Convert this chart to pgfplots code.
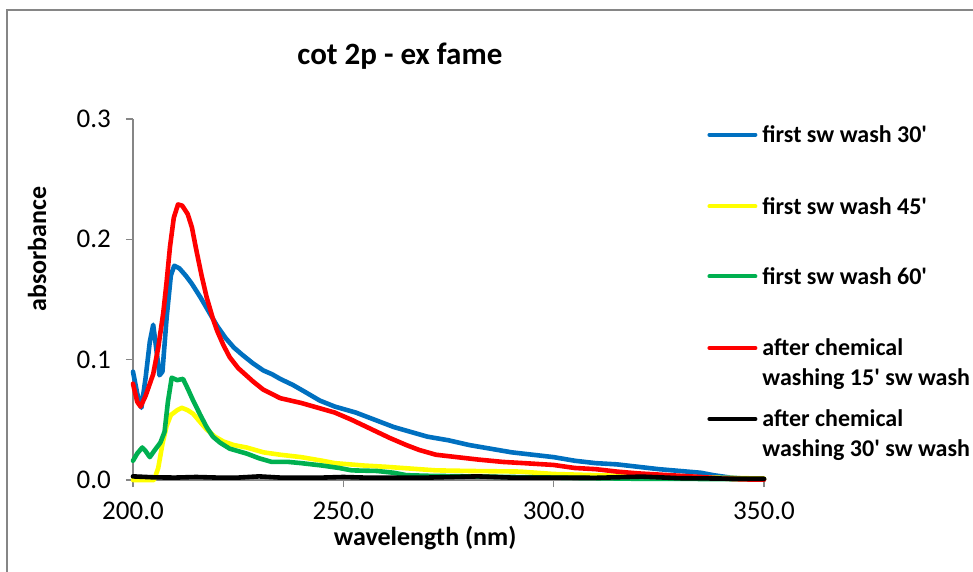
\documentclass[border=0pt]{standalone}
\usepackage{fontspec}
\setmainfont{Carlito}[Ligatures=TeXOff]
\usepackage{pgfplots}
\pgfplotsset{compat=1.18}
\definecolor{xlblue}{RGB}{0,112,192}
\definecolor{xlyellow}{RGB}{255,255,0}
\definecolor{xlgreen}{RGB}{0,176,80}
\definecolor{xlred}{RGB}{255,0,0}
\definecolor{axgray}{RGB}{134,134,134}
\begin{document}
\begin{tikzpicture}
% picture area
\clip (-66.5pt,-46pt) rectangle (420pt,240pt);
\draw[axgray, line width=0.8pt] (-63pt,-46pt) -- (-63pt,235pt) -- (420pt,235pt);
\begin{axis}[
    at={(0pt,0pt)}, anchor=south west,
    scale only axis, width=315.5pt, height=180.5pt,
    xmin=200, xmax=350, ymin=0, ymax=0.3,
    axis lines=left,
    axis line style={-, draw=axgray, line width=0.7pt},
    clip=false,
    xtick={200,250,300,350}, ytick={0,0.1,0.2,0.3},
    tick align=outside, major tick length=3.5pt,
    tick style={draw=axgray, line width=0.7pt},
    /pgf/number format/.cd, fixed, fixed zerofill, precision=1,
        assume math mode=true, /pgfplots/.cd,
    tick label style={font=\fontsize{13.5}{16}\selectfont},
    xticklabel style={yshift=-4pt},
    yticklabel style={xshift=-4pt},
    title={cot 2p - ex fame},
    title style={at={(axis description cs:0.423,1.141)}, anchor=center,
                 font=\bfseries\fontsize{15.5}{18}\selectfont},
    xlabel={wavelength (nm)},
    xlabel style={at={(axis description cs:0.463,-0.16)}, anchor=center,
                  font=\bfseries\fontsize{13}{16}\selectfont},
    ylabel={absorbance},
    ylabel style={at={(axis description cs:-0.152,0.64)}, anchor=center,
                  font=\bfseries\fontsize{13}{16}\selectfont},
    legend style={at={(axis description cs:0.9097,0.9909)}, anchor=north west,
                  draw=none, fill=none, inner sep=0pt, row sep=0pt,
                  nodes={inner xsep=2.5pt, inner ysep=0pt, text height=10pt,
                         font=\bfseries\fontsize{12}{15}\selectfont},
                  cells={anchor=base west}},
    legend image code/.code={\draw[#1, line width=2pt] (0pt,4pt) -- (23pt,4pt);},
    every axis plot/.append style={line width=2.3pt, line join=round, line cap=round},
]
% first sw wash 30'
\addplot[xlblue] coordinates {
(200,0.090) (201,0.072) (202,0.060) (203,0.085) (204,0.115) (204.8,0.129)
(205.5,0.110) (206.3,0.087) (207,0.090) (208,0.135) (209,0.170) (209.8,0.178)
(211,0.176) (212.5,0.170) (214,0.163) (216,0.152) (218,0.140) (220,0.128)
(222,0.118) (224,0.110) (226,0.104) (228.5,0.097) (231,0.091) (233,0.088)
(235,0.084) (238,0.079) (241,0.073) (244.4,0.066) (248,0.061) (250,0.059)
(253,0.056) (256,0.052) (259,0.048) (262,0.044) (266,0.040) (270,0.036)
(275,0.033) (280,0.029) (285,0.026) (290,0.023) (295,0.021) (300,0.019)
(305,0.016) (310,0.014) (315,0.013) (320,0.011) (325,0.009) (330,0.0075)
(335,0.006) (338,0.004) (342,0.002) (346,0.001) (350,0.0005)
};
\addlegendentry[text depth=25.85pt]{first sw wash 30'}
% first sw wash 45'
\addplot[xlyellow] coordinates {
(200,0.0) (205,0.0) (206,0.010) (207,0.030) (208,0.045) (209,0.054)
(210.5,0.058) (211.6,0.060) (213,0.058) (214.3,0.055) (216,0.048) (217.5,0.042)
(219.5,0.036) (221.5,0.032) (224,0.029) (227,0.027) (231,0.023) (235,0.021)
(240,0.019) (245,0.016) (248,0.014) (255,0.012) (260,0.011) (266,0.0095)
(272,0.008) (280,0.0075) (292,0.007) (300,0.005) (310,0.004) (320,0.003)
(330,0.0025) (340,0.0018) (350,0.0012)
};
\addlegendentry[text depth=25pt]{first sw wash 45'}
% first sw wash 60'
\addplot[xlgreen] coordinates {
(200,0.016) (201,0.022) (202.2,0.027) (203,0.024) (204,0.019) (205,0.024)
(206.5,0.031) (207.5,0.040) (208.3,0.065) (209.2,0.085) (210.5,0.083) (211.9,0.084)
(213,0.076) (214.3,0.066) (216,0.054) (217.5,0.044) (219,0.036) (220.7,0.031)
(223,0.026) (227,0.022) (230,0.018) (233,0.015) (237,0.015) (240,0.014)
(245,0.012) (249,0.010) (252,0.008) (258,0.0075) (262,0.006) (265,0.004)
(270,0.0035) (280,0.003) (290,0.0025) (300,0.002) (310,0.0015) (320,0.001)
(330,0.001) (340,0.0007) (350,0.0005)
};
\addlegendentry[text depth=25.8pt]{first sw wash 60'}
% after chemical washing 15' sw wash
\addplot[xlred] coordinates {
(200,0.080) (201,0.065) (201.8,0.061) (203,0.070) (204.8,0.088) (206,0.110)
(207.2,0.139) (208,0.165) (208.8,0.194) (209.7,0.218) (210.7,0.229) (211.7,0.228)
(213,0.221) (214,0.210) (215,0.192) (216.3,0.170) (217.5,0.152) (219,0.134)
(220,0.124) (221.5,0.112) (223,0.102) (225,0.093) (228.5,0.082) (231,0.075)
(235,0.068) (240,0.064) (244,0.060) (248,0.056) (252,0.050) (255,0.045)
(258,0.040) (261,0.035) (265,0.029) (268,0.025) (272,0.021) (277,0.019)
(282,0.017) (288,0.015) (293,0.014) (300,0.0125) (305,0.010) (310,0.009)
(315,0.007) (320,0.0055) (325,0.0045) (330,0.0035) (335,0.0025) (340,0.0012)
(345,0.0005) (350,0.0003)
};
\addlegendentry[text depth=5pt]{after chemical}
\addlegendimage{empty legend}
\addlegendentry[text depth=10.5pt]{washing 15' sw wash}
% after chemical washing 30' sw wash
\addplot[black] coordinates {
(200,0.003) (205,0.0022) (210,0.002) (215,0.0025) (220,0.002) (225,0.002)
(230,0.003) (235,0.002) (240,0.002) (245,0.002) (250,0.0025) (255,0.002)
(260,0.002) (270,0.002) (282,0.003) (290,0.002) (300,0.002) (310,0.0018)
(321,0.0028) (330,0.0015) (340,0.0012) (350,0.001)
};
\addlegendentry[text depth=5pt]{after chemical}
\addlegendimage{empty legend}
\addlegendentry[text depth=3pt]{washing 30' sw wash}
\end{axis}
\end{tikzpicture}
\end{document}
